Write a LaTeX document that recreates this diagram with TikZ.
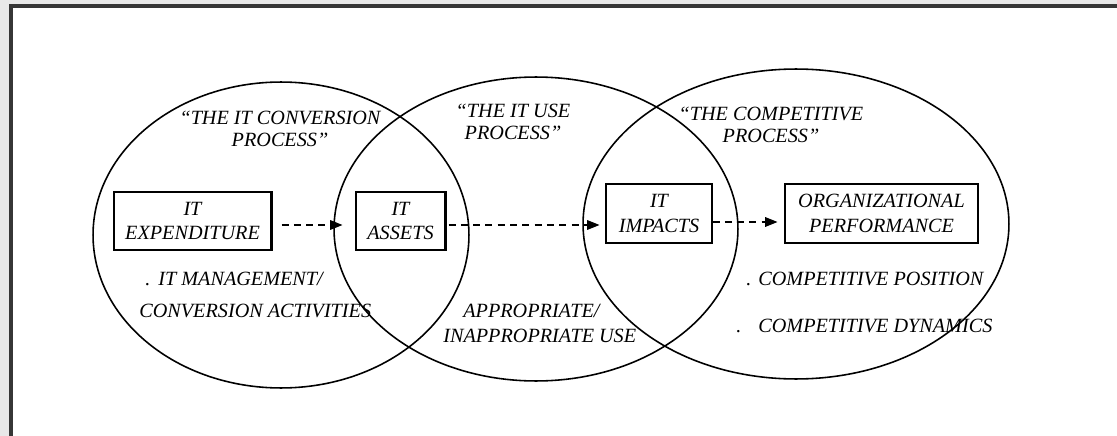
\documentclass[tikz,border=0pt]{standalone}
\usepackage{fontspec}
\setmainfont{Liberation Serif}
\usepackage{tikz}
\usetikzlibrary{arrows.meta,positioning,calc}
\usepackage{xcolor}
\definecolor{pagegray}{HTML}{E8E8E8}
\definecolor{edgegray}{HTML}{363636}
\newcommand{\procfont}{\fontsize{11.5}{12.5}\selectfont\itshape}
\newcommand{\boxfont}{\fontsize{11.5}{14}\selectfont\itshape}

\begin{document}
\begin{tikzpicture}[x=0.02cm, y=-0.02cm,
    ring/.style={line width=0.9pt},
    box/.style={draw, line width=0.6pt, align=center, inner sep=0pt, font=\boxfont},
    txt/.style={inner sep=0pt, font=\procfont, align=center},
    note/.style={inner sep=0pt, font=\procfont, anchor=base west},
    flow/.style={line width=0.6pt, dash pattern=on 4pt off 3pt, -{Triangle[length=7pt,width=5.5pt]}}]
    % 外框
    \fill[pagegray] (0,0) rectangle (1117,436);
    \fill[edgegray] (9,4) rectangle (1117,436);
    \fill[white] (13,8) rectangle (1117,436);
    \useasboundingbox (0,0) rectangle (1117,436);

    % 三个过程的椭圆
    \coordinate (C1) at (281,235);
    \coordinate (C2) at (536,229);
    \coordinate (C3) at (796,224);
    \draw[ring] (C1) ellipse [x radius=3.76cm, y radius=3.06cm];
    \draw[ring] (C2) ellipse [x radius=4.04cm, y radius=3.04cm];
    \draw[ring] (C3) ellipse [x radius=4.26cm, y radius=3.10cm];

    % 过程名称
    \node[txt] (T1) at (280,129) {``THE IT CONVERSION\\PROCESS''};
    \node[txt] (T2) at (513,122) {``THE IT USE\\PROCESS''};
    \node[txt] (T3) at (771,125) {``THE COMPETITIVE\\PROCESS''};

    % 方框
    \node[box, minimum width=3.14cm, minimum height=1.16cm] (EXP) at (192.5,221) {IT\\EXPENDITURE};
    \node[box, minimum width=1.78cm, minimum height=1.16cm] (AST) at (400.5,221) {IT\\ASSETS};
    \node[box, minimum width=2.12cm, minimum height=1.18cm] (IMP) at (659,213.5) {IT\\IMPACTS};
    \node[box, minimum width=3.86cm, minimum height=1.18cm] (PERF) at (881.5,213.5) {ORGANIZATIONAL\\PERFORMANCE};
    \draw[line width=1.4pt] (EXP.north east) -- (EXP.south east);
    \draw[line width=1.4pt] (AST.north east) -- (AST.south east);

    % 虚线箭头
    \draw[flow, shorten <=0.2cm, shorten >=0.26cm] ([yshift=-0.08cm]EXP.east) -- ([yshift=-0.08cm]AST.west);
    \draw[flow, shorten <=0.06cm, shorten >=0.12cm] ([yshift=-0.08cm]AST.east) -- ([yshift=-0.08cm]AST.east -| IMP.west);
    \draw[flow, shorten >=0.14cm] ([yshift=-0.17cm]IMP.east) -- ([yshift=-0.17cm]PERF.west);

    % 各过程下的说明
    \node[note] (D1) at (145,285) {.};
    \node[note] (N1) at (158,285) {IT MANAGEMENT/};
    \node[note] (N2) at (139,317) {CONVERSION ACTIVITIES};
    \node[note] (N3) at (463,317) {APPROPRIATE/};
    \node[note] (N4) at (443,342) {INAPPROPRIATE USE};
    \node[note] (D2) at (746,285) {.};
    \node[note] (N5) at (758,285) {COMPETITIVE POSITION};
    \node[note] (D3) at (736,332) {.};
    \node[note] (N6) at (758,332) {COMPETITIVE DYNAMICS};
\end{tikzpicture}
\end{document}
